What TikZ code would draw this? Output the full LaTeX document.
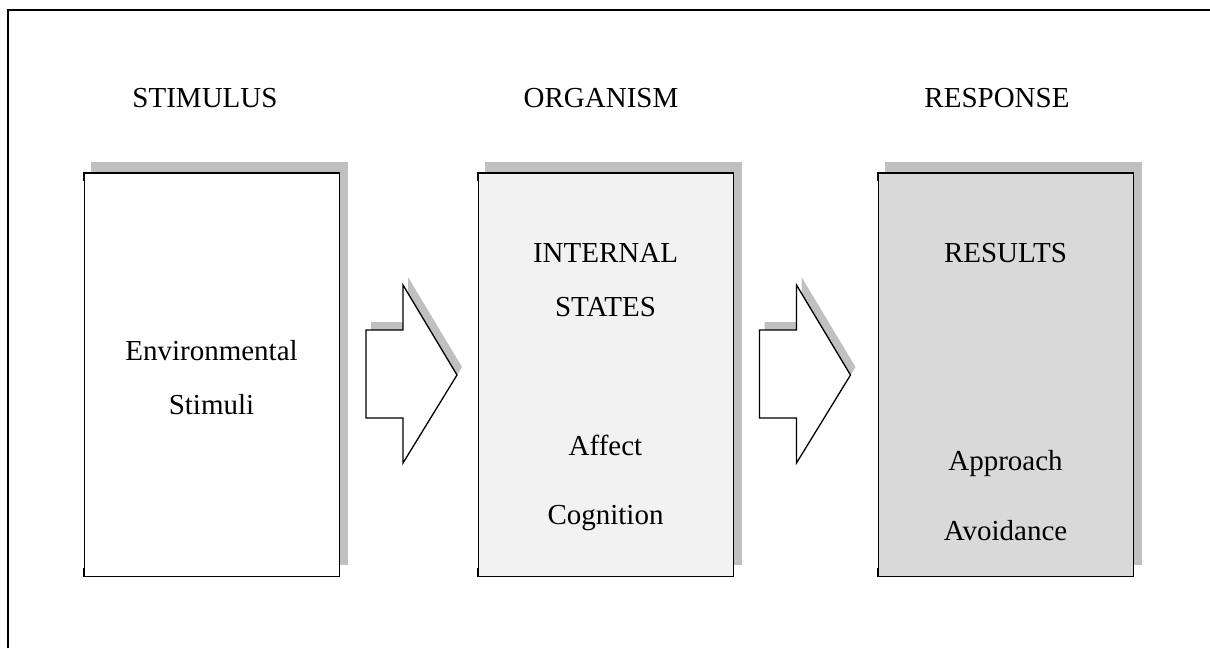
\documentclass[tikz,border=0pt]{standalone}
\usepackage{fontspec}
\setmainfont{Liberation Serif}
\usetikzlibrary{backgrounds}
\definecolor{shadowgray}{HTML}{C0C0C0}
\definecolor{fillA}{HTML}{FFFFFF}
\definecolor{fillB}{HTML}{F2F2F2}
\definecolor{fillC}{HTML}{D9D9D9}
\begin{document}
\begin{tikzpicture}[x=1pt,y=-1pt,
  txt/.style={font=\fontsize{29}{34}\selectfont, anchor=base, inner sep=0pt},
  panel/.style={draw=black, line width=0.7pt, minimum width=255pt, minimum height=403pt, inner sep=0pt},
  edgeline/.style={line width=1.5pt, line cap=rect},
  shadowbox/.style={fill=shadowgray, draw=none},
  blockarrow/.style={fill=white, draw=black, line width=1.3pt, line join=miter},
  arrowshadow/.style={fill=shadowgray, draw=none}]
\useasboundingbox (0,0) rectangle (1210,648);
% outer frame
\draw[line width=1.2pt] (8,648) -- (8,10) -- (1210,10);

% headings
\node[txt] (h1) at (205,107) {STIMULUS};
\node[txt] (h2) at (601,107) {ORGANISM};
\node[txt] (h3) at (997,107) {RESPONSE};

% panels
\node[panel, fill=fillA] (b1) at (211.5,374.5) {};
\node[panel, fill=fillB] (b2) at (605.5,374.5) {};
\node[panel, fill=fillC] (b3) at (1005.5,374.5) {};

\begin{scope}[on background layer]
  \foreach \b in {b1,b2,b3}{
    \fill[shadowbox] ([shift={(7,-11)}]\b.north west) rectangle ([shift={(9,-11)}]\b.south east);
  }
\end{scope}

% thicker top and bottom edges with corner ticks
\foreach \b in {b1,b2,b3}{
  \draw[edgeline] ([yshift=-8pt]\b.north west) -- (\b.north west) -- (\b.north east) -- ([yshift=-8pt]\b.north east);
  \draw[edgeline] ([yshift=8pt]\b.south west) -- (\b.south west) -- (\b.south east) -- ([yshift=8pt]\b.south east);
}

% panel texts
\node[txt] (t1a) at (211.5,360) {Environmental};
\node[txt] (t1b) at (211.5,414) {Stimuli};
\node[txt] (t2a) at (605.5,262) {INTERNAL};
\node[txt] (t2b) at (605.5,316) {STATES};
\node[txt] (t2c) at (605.5,455) {Affect};
\node[txt] (t2d) at (605.5,524) {Cognition};
\node[txt] (t3a) at (1005.5,262) {RESULTS};
\node[txt] (t3b) at (1005.5,470) {Approach};
\node[txt] (t3c) at (1005.5,540) {Avoidance};

% block arrows
\foreach \ax/\nm in {366/a1, 759.5/a2}{
  \begin{scope}[shift={(\ax,0)}]
    \fill[arrowshadow, shift={(5,-8)}] (0,330) -- (37,330) -- (37,285) -- (91,375) -- (37,463) -- (37,418) -- (0,418) -- cycle;
    \draw[blockarrow] (0,330) -- (37,330) -- (37,285) -- (91,375) -- (37,463) -- (37,418) -- (0,418) -- cycle;
    \coordinate (\nm) at (45,374);
  \end{scope}
}
\end{tikzpicture}
\end{document}
